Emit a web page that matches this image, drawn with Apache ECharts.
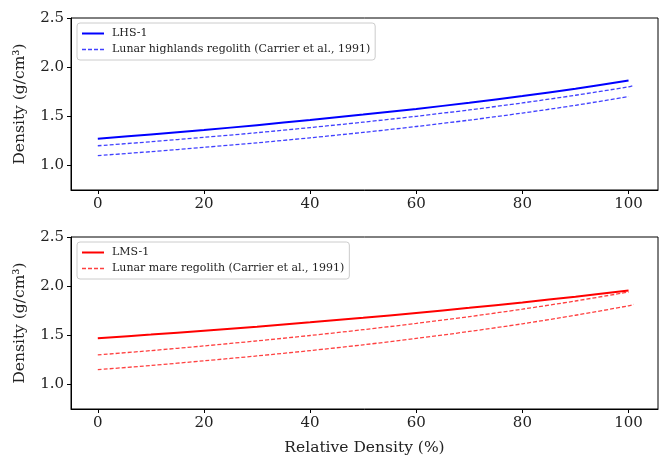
<!DOCTYPE html>
<html>
<head>
<meta charset="utf-8">
<script src="https://cdn.jsdelivr.net/npm/echarts@6/dist/echarts.min.js"></script>
<style>html,body{margin:0;padding:0;background:#fff;}#c{width:659px;height:459px;}</style>
</head>
<body>
<div id="c"></div>
<script>
// Relative density (%) sample positions
const xRD = [0, 10, 20, 30, 40, 50, 60, 70, 80, 90, 100];
const xRDext = [0, 10, 20, 30, 40, 50, 60, 70, 80, 90, 100, 101];
// Top panel (highlands)
const lhs1 = [1.272, 1.315, 1.36, 1.41, 1.462, 1.517, 1.575, 1.638, 1.706, 1.781, 1.864];
const highlandsUpper = [1.2, 1.241, 1.286, 1.333, 1.385, 1.44, 1.5, 1.565, 1.636, 1.714, 1.8, 1.815];
const highlandsLower = [1.1, 1.14, 1.184, 1.23, 1.281, 1.336, 1.396, 1.461, 1.533, 1.612, 1.7];
// Bottom panel (mare)
const lms1 = [1.47, 1.507, 1.547, 1.588, 1.632, 1.678, 1.727, 1.779, 1.834, 1.893, 1.955];
const mareUpper = [1.3, 1.344, 1.392, 1.443, 1.498, 1.557, 1.621, 1.69, 1.766, 1.849, 1.94];
const mareLower = [1.15, 1.193, 1.24, 1.29, 1.344, 1.403, 1.468, 1.539, 1.617, 1.704, 1.8, 1.815];
// Tick labels
const xTicks = [0, 20, 40, 60, 80, 100];
const yTicks = [1.0, 1.5, 2.0, 2.5];

const nameLHS = 'LHS-1';
const nameHigh = 'Lunar highlands regolith (Carrier et al., 1991)';
const nameLMS = 'LMS-1';
const nameMare = 'Lunar mare regolith (Carrier et al., 1991)';

function pairs(xs, ys) { return ys.map((v, i) => [xs[i], v]); }

const FONT = 'DejaVu Serif';
const SOLID_ICON = 'path://M0,0h22v2h-22z';
const DASH_ICON = 'path://M0,0.25h4v1.5h-4z M6,0.25h4v1.5h-4z M12,0.25h4v1.5h-4z M18,0.25h4v1.5h-4z M0,0h0.01v2h-0.01z';

function xAxisCfg(gi, withName) {
  return {
    type: 'value', gridIndex: gi, min: -5.05, max: 105.55,
    splitLine: { show: false },
    axisLine: { show: true, onZero: false, lineStyle: { color: '#000', width: 1 } },
    axisTick: { show: true, length: 4, customValues: xTicks, lineStyle: { color: '#000' } },
    axisLabel: { customValues: xTicks, fontFamily: FONT, fontSize: 15, color: '#222', margin: 7 },
    name: withName ? 'Relative Density (%)' : '',
    nameLocation: 'middle', nameGap: 31,
    nameTextStyle: { fontFamily: FONT, fontSize: 15.5, color: '#222' }
  };
}
function yAxisCfg(gi) {
  return {
    type: 'value', gridIndex: gi, min: 0.75, max: 2.5,
    splitLine: { show: false },
    axisLine: { show: true, onZero: false, lineStyle: { color: '#000', width: 1 } },
    axisTick: { show: true, length: 4, customValues: yTicks, lineStyle: { color: '#000' } },
    axisLabel: { customValues: yTicks, formatter: v => v.toFixed(1), fontFamily: FONT, fontSize: 15, color: '#222', margin: 7 },
    name: 'Density (g/cm³)', nameLocation: 'middle', nameGap: 43,
    nameTextStyle: { fontFamily: FONT, fontSize: 15.5, color: '#222' }
  };
}
function legendCfg(top, names, color) {
  return {
    orient: 'vertical', left: 77, top: top,
    data: [
      { name: names[0], icon: SOLID_ICON, itemStyle: { color: color, opacity: 1 } },
      { name: names[1], icon: DASH_ICON, itemStyle: { color: color, opacity: 0.75 } }
    ],
    padding: [5, 5, 5, 5], itemGap: 5, itemWidth: 22, itemHeight: 2,
    symbolKeepAspect: false,
    backgroundColor: 'rgba(255,255,255,0.85)', borderColor: '#ccc', borderWidth: 1, borderRadius: 3,
    textStyle: { fontFamily: FONT, fontSize: 11, color: '#222', padding: [0, 0, 0, 3] },
    selectedMode: false
  };
}
function line(name, xs, ys, gi, color, dashed) {
  return {
    type: 'line', name: name, xAxisIndex: gi, yAxisIndex: gi,
    data: pairs(xs, ys), symbol: 'none', smooth: 0.3, silent: true,
    lineStyle: dashed ? { color: color, width: 1.3, type: [4, 2], opacity: 0.75 }
                      : { color: color, width: 2 },
    itemStyle: { color: color },
    animation: false
  };
}

const chart = echarts.init(document.getElementById('c'), null, { renderer: 'canvas' });
chart.setOption({
  backgroundColor: '#fff',
  animation: false,
  grid: [
    { left: 71, top: 18, right: 1, height: 172, show: true, borderColor: '#000', borderWidth: 1, backgroundColor: 'transparent' },
    { left: 71, top: 237, right: 1, height: 172, show: true, borderColor: '#000', borderWidth: 1, backgroundColor: 'transparent' }
  ],
  xAxis: [xAxisCfg(0, false), xAxisCfg(1, true)],
  yAxis: [yAxisCfg(0), yAxisCfg(1)],
  legend: [legendCfg(23, [nameLHS, nameHigh], '#0000ff'), legendCfg(242, [nameLMS, nameMare], '#ff0000')],
  series: [
    line(nameLHS, xRD, lhs1, 0, '#0000ff', false),
    line(nameHigh, xRDext, highlandsUpper, 0, '#0000ff', true),
    line(nameHigh, xRD, highlandsLower, 0, '#0000ff', true),
    line(nameLMS, xRD, lms1, 1, '#ff0000', false),
    line(nameMare, xRD, mareUpper, 1, '#ff0000', true),
    line(nameMare, xRDext, mareLower, 1, '#ff0000', true)
  ]
});
</script>
</body>
</html>
